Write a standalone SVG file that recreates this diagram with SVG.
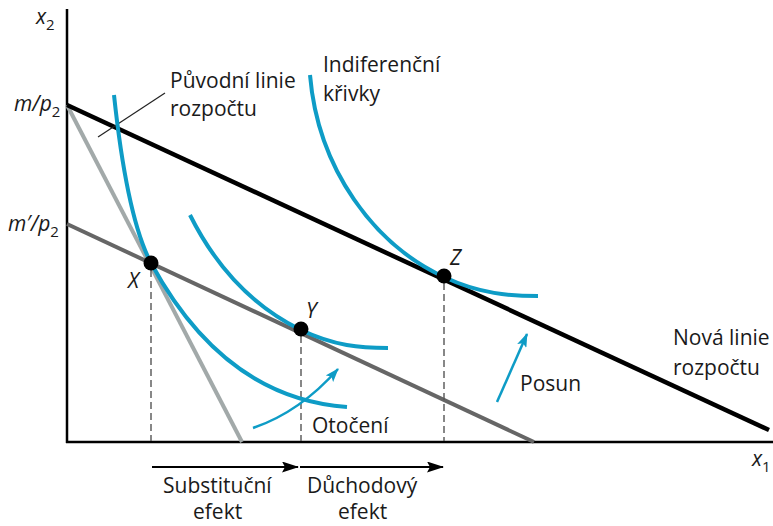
<svg xmlns="http://www.w3.org/2000/svg" width="773" height="526" viewBox="0 0 773 526">
<defs>
<style>
.t{font-family:"Open Sans","Noto Sans","DejaVu Sans",sans-serif;font-size:21px;fill:#1a1a1a}
.m{font-family:"Open Sans","Noto Sans","DejaVu Sans",sans-serif;font-size:21px;font-style:italic;fill:#1a1a1a}
.s{font-size:15px;font-style:normal}
.curve{fill:none;stroke:#0e9cc6;stroke-width:4;stroke-linecap:butt}
.dash{stroke:#555;stroke-width:1.4;stroke-dasharray:7,4;fill:none}
.dot{fill:#000}
</style>
<marker id="ab" viewBox="0 0 14 10" refX="13" refY="5" markerWidth="14" markerHeight="10" markerUnits="userSpaceOnUse" orient="auto">
<path d="M0,0 L14,5 L0,10 L3,5 z" fill="#0e9cc6"/>
</marker>
<marker id="ak" viewBox="0 0 17 11" refX="16" refY="5.5" markerWidth="17" markerHeight="11" markerUnits="userSpaceOnUse" orient="auto">
<path d="M0,0 L17,5.5 L0,11 L3,5.5 z" fill="#000"/>
</marker>
</defs>
<rect width="773" height="526" fill="#fff"/>

<g id="axes">
<line x1="67" y1="9" x2="67" y2="443" stroke="#000" stroke-width="2.5"/>
<line x1="66" y1="442" x2="773" y2="442" stroke="#000" stroke-width="2.5"/>
<text class="m" x="36" y="24">x<tspan class="s" dy="6">2</tspan></text>
<text class="m" x="752" y="466">x<tspan class="s" dy="6">1</tspan></text>
<text class="m" x="14" y="111">m/p<tspan class="s" dy="6">2</tspan></text>
<text class="m" x="8" y="231">m′/p<tspan class="s" dy="6">2</tspan></text>
</g>

<g id="connectors">
<line id="original-budget" x1="67" y1="105" x2="242" y2="442" stroke="#a2a9a9" stroke-width="4"/>
<line id="rotated-budget" x1="67" y1="224" x2="534" y2="442" stroke="#666" stroke-width="4"/>
<line id="new-budget" x1="67" y1="105" x2="769" y2="430" stroke="#000" stroke-width="4.5"/>
<line x1="165" y1="93" x2="98" y2="137" stroke="#222" stroke-width="1.2"/>
<line class="dash" x1="151" y1="270" x2="151" y2="441"/>
<line class="dash" x1="301" y1="336" x2="301" y2="441"/>
<line class="dash" x1="444" y1="283" x2="444" y2="441"/>
<path d="M253,428 Q300,412 338,369" fill="none" stroke="#0e9cc6" stroke-width="2.5" marker-end="url(#ab)"/>
<line x1="497" y1="402" x2="527" y2="334" stroke="#0e9cc6" stroke-width="2.5" marker-end="url(#ab)"/>
<line x1="152" y1="467" x2="298" y2="467" stroke="#000" stroke-width="2" marker-end="url(#ak)"/>
<line x1="300" y1="467" x2="443" y2="467" stroke="#000" stroke-width="2" marker-end="url(#ak)"/>
</g>

<g id="curve1"><path class="curve" d="M114,95 C122,170 134,231 151,263 C190,335 250,400 347,407"/></g>
<g id="curve2"><path class="curve" d="M190,215 C215,265 250,305 301,330 C335,346 360,348 388,348"/></g>
<g id="curve3"><path class="curve" d="M310,75 C318,170 375,245 444,277 C480,294 510,296 538,296"/></g>

<g id="X"><circle class="dot" cx="151" cy="263" r="7.5"/><text class="m" x="128" y="288">X</text></g>
<g id="Y"><circle class="dot" cx="301" cy="329" r="7.5"/><text class="m" x="306" y="318">Y</text></g>
<g id="Z"><circle class="dot" cx="444" cy="276" r="7.5"/><text class="m" x="450" y="265">Z</text></g>

<g id="label-puvodni"><text class="t" x="170" y="88">Původní linie</text><text class="t" x="170" y="116">rozpočtu</text></g>
<g id="label-indif"><text class="t" x="323" y="72">Indiferenční</text><text class="t" x="323" y="101">křivky</text></g>
<g id="label-nova"><text class="t" x="673" y="345">Nová linie</text><text class="t" x="673" y="375">rozpočtu</text></g>
<g id="label-posun"><text class="t" x="520" y="391">Posun</text></g>
<g id="label-otoceni"><text class="t" x="312" y="433">Otočení</text></g>
<g id="label-subst"><text class="t" x="163" y="493">Substituční</text><text class="t" x="193" y="519">efekt</text></g>
<g id="label-duch"><text class="t" x="307" y="493">Důchodový</text><text class="t" x="338" y="519">efekt</text></g>
</svg>
